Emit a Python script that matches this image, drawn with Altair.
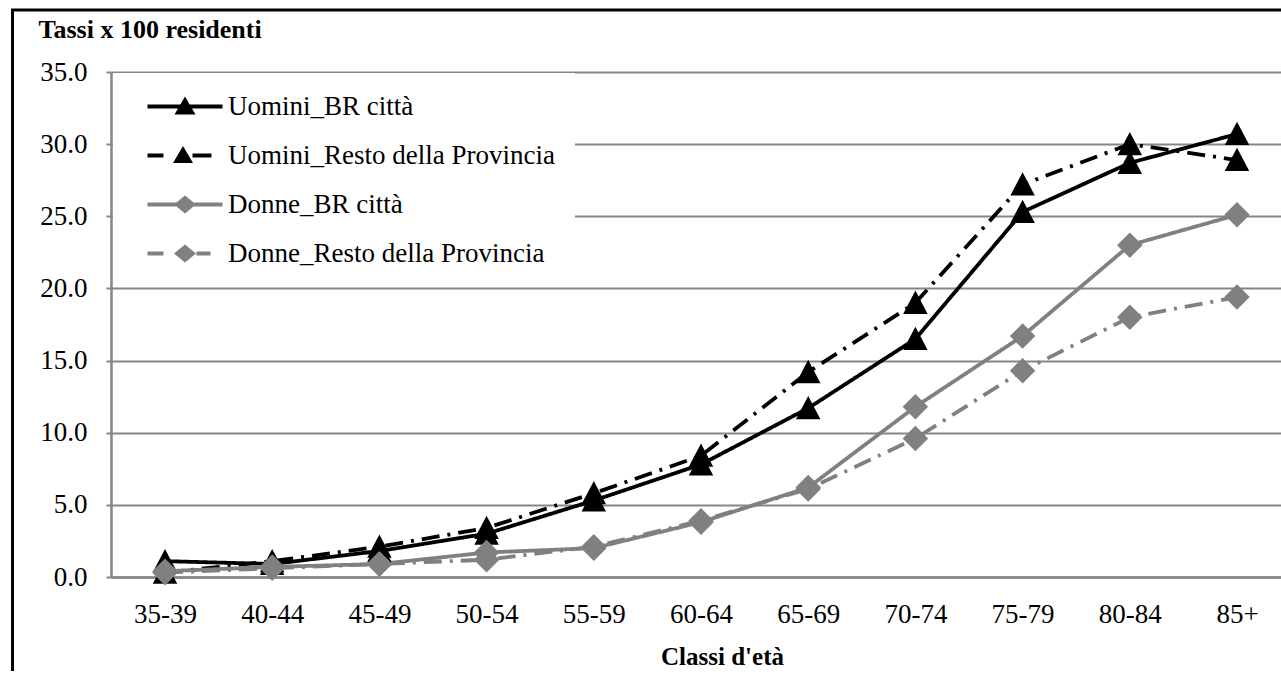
import altair as alt
import pandas as pd

# ---- data ----
classi = ["35-39", "40-44", "45-49", "50-54", "55-59", "60-64",
          "65-69", "70-74", "75-79", "80-84", "85+"]
serie = ["Uomini_BR città", "Uomini_Resto della Provincia",
         "Donne_BR città", "Donne_Resto della Provincia"]
uomini_br = [1.1, 0.9, 1.8, 3.0, 5.3, 7.8, 11.7, 16.5, 25.3, 28.7, 30.7]
uomini_resto = [0.3, 1.1, 2.1, 3.4, 5.8, 8.4, 14.2, 19.0, 27.2, 30.0, 28.9]
donne_br = [0.4, 0.7, 0.9, 1.7, 2.0, 3.8, 6.2, 11.8, 16.7, 23.0, 25.1]
donne_resto = [0.3, 0.6, 0.9, 1.2, 2.1, 3.9, 6.1, 9.6, 14.3, 18.0, 19.4]
y_ticks = [0, 5, 10, 15, 20, 25, 30, 35]

valori = [uomini_br, uomini_resto, donne_br, donne_resto]
rows = []
for s, vals in zip(serie, valori):
    for c, v in zip(classi, vals):
        rows.append({"Classe": c, "Serie": s, "Valore": v})
df = pd.DataFrame(rows)

# ---- styles ----
FONT = "Liberation Serif"
GRID = "#868686"
colori = ["#000000", "#000000", "#808080", "#808080"]
tratti = [[1, 0], [18, 8, 3, 8], [1, 0], [18, 8, 3, 8]]
TRI = "M0,-1L1,0.9L-1,0.9Z"
legend_paths = [
    "M0.1,-0.2L7.6,-0.2L7.6,0.2L0.1,0.2Z M3.85,-1.0L4.9,0.8L2.8,0.8Z",
    "M0.1,-0.2L1.7,-0.2L1.7,0.2L0.1,0.2Z M4.6,-0.2L6.5,-0.2L6.5,0.2L4.6,0.2Z M3.65,-0.95L4.65,0.75L2.65,0.75Z",
    "M0.1,-0.2L7.6,-0.2L7.6,0.2L0.1,0.2Z M3.85,-0.9L4.95,0L3.85,0.9L2.75,0Z",
    "M0.1,-0.2L1.7,-0.2L1.7,0.2L0.1,0.2Z M5.0,-0.2L6.4,-0.2L6.4,0.2L5.0,0.2Z M3.85,-0.9L4.95,0L3.85,0.9L2.75,0Z",
]

x = alt.X(
    "Classe:N", sort=classi,
    scale=alt.Scale(type="point", padding=0.457, align=0.551),
    axis=alt.Axis(
        title="Classi d'età", titleFont=FONT, titleFontSize=25, titleFontWeight="bold",
        titleColor="black", titleAnchor="start", titleAlign="center",
        titleX=611, titleY=87, titleBaseline="alphabetic",
        labelFont=FONT, labelFontSize=27, labelColor="black", labelAngle=0,
        labelPadding=24, ticks=False, grid=False,
        domainColor=GRID, domainWidth=2.5,
    ),
)
y = alt.Y(
    "Valore:Q",
    scale=alt.Scale(domain=[0, 35], nice=False, zero=True),
    axis=alt.Axis(
        values=y_ticks, format=".1f",
        title="Tassi x 100 residenti", titleFont=FONT, titleFontSize=26,
        titleFontWeight="bold", titleColor="black", titleAngle=0,
        titleAlign="left", titleAnchor="start", titleBaseline="alphabetic",
        titleX=-73, titleY=-35,
        labelFont=FONT, labelFontSize=27, labelColor="black", labelPadding=19,
        tickColor=GRID, tickSize=5, tickWidth=2,
        grid=True, gridColor=GRID, gridWidth=2,
        domainColor=GRID, domainWidth=2.5,
    ),
)


def color_enc(legend):
    return alt.Color("Serie:N", sort=serie,
                     scale=alt.Scale(domain=serie, range=colori), legend=legend)


legend_cfg = alt.Legend(
    title=None, orient="none", legendX=2, legendY=1, padding=20,
    fillColor="white", labelFont=FONT, labelFontSize=27, labelColor="black",
    labelOffset=68, rowPadding=21, symbolSize=400, symbolStrokeWidth=0,
    symbolOpacity=1, labelLimit=700,
)

base = alt.Chart(df)

lines = base.mark_line(strokeWidth=3.8).encode(
    x=x, y=y, color=color_enc(None),
    strokeDash=alt.StrokeDash("Serie:N", sort=serie,
                              scale=alt.Scale(domain=serie, range=tratti), legend=None),
)

triangles = base.transform_filter(
    alt.FieldOneOfPredicate(field="Serie", oneOf=serie[:2])
).mark_point(filled=True, opacity=1, shape=TRI, size=600, strokeWidth=0).encode(
    x=x, y=y, color=color_enc(None),
)

diamonds = base.transform_filter(
    alt.FieldOneOfPredicate(field="Serie", oneOf=serie[2:])
).mark_point(filled=True, opacity=1, shape="diamond", size=650, strokeWidth=0).encode(
    x=x, y=y, color=color_enc(None),
)

legend_layer = base.mark_point(filled=True, opacity=0).encode(
    x=x, y=y,
    color=color_enc(legend_cfg),
    shape=alt.Shape("Serie:N", sort=serie,
                    scale=alt.Scale(domain=serie, range=legend_paths), legend=legend_cfg),
)

border = alt.Chart(pd.DataFrame({"k": [0]})).mark_rect(
    filled=False, stroke="black", strokeWidth=3
).encode(
    x=alt.value(-98.5), x2=alt.value(1300), y=alt.value(-62), y2=alt.value(700)
)

chart = alt.layer(lines, triangles, diamonds, legend_layer, border).resolve_scale(
    color="independent", shape="independent", strokeDash="independent"
).resolve_legend(
    color="independent", shape="independent"
).properties(
    width=1170, height=505,
    padding={"left": 111, "top": 72, "right": 0, "bottom": 94},
    autosize=alt.AutoSizeParams(type="none"),
    background="white",
).configure_view(stroke=None)

chart.save("out.html", embed_options={"renderer": "svg", "actions": False})
